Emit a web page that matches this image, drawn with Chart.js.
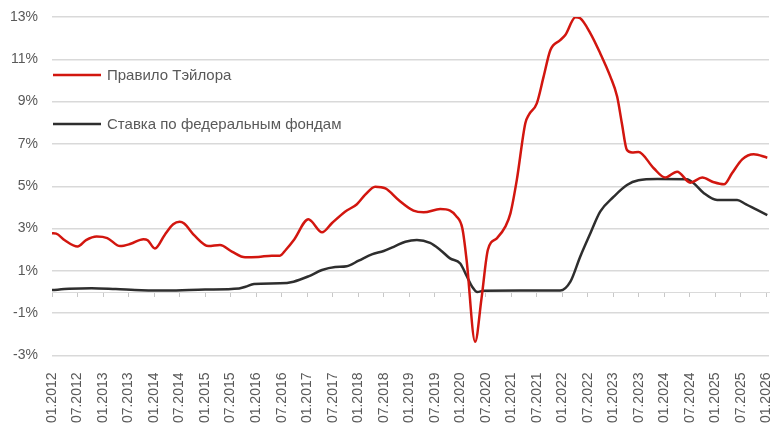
<!DOCTYPE html>
<html>
<head>
<meta charset="utf-8">
<script src="https://cdn.jsdelivr.net/npm/chart.js@4.4.1/dist/chart.umd.min.js"></script>
<style>
  html, body { margin: 0; padding: 0; background: #fff; }
  #wrap { width: 784px; height: 431px; }
</style>
</head>
<body>
<div id="wrap"><canvas id="chart" width="784" height="431"></canvas></div>
<script>
// months counted from 01.2012
const taylorMonths = [0, 1, 3, 6, 8, 10.5, 13, 16, 18.5, 21.5, 22.5, 24.2, 26.5, 28.5, 30, 31, 33.6, 36.8, 39.5, 42.3, 45.4, 48.5, 51.7, 53.6, 55, 57, 60.3, 61, 63.5, 65.8, 68.9, 71.7, 73.6, 76, 78.4, 81.5, 85, 87.4, 91.3, 93.6, 95, 96.5, 97.5, 99.5, 101, 102.5, 104.6, 106.6, 107.8, 109.3, 111.3, 112.1, 114, 115.6, 117.2, 119.5, 120.7, 123.1, 124.2, 126.6, 128.9, 131.3, 132.9, 134, 135.2, 136.4, 137.9, 141.5, 144.2, 147, 150.1, 152.9, 155.6, 158, 159.9, 162.3, 165, 168.2];
const taylorRate = [2.78, 2.76, 2.45, 2.15, 2.45, 2.62, 2.55, 2.17, 2.28, 2.50, 2.45, 2.06, 2.7, 3.2, 3.32, 3.25, 2.65, 2.17, 2.22, 1.91, 1.64, 1.66, 1.72, 1.72, 2.0, 2.5, 3.44, 3.35, 2.82, 3.25, 3.8, 4.15, 4.59, 4.98, 4.90, 4.35, 3.85, 3.77, 3.92, 3.85, 3.6, 3.0, 1.5, -2.35, -0.3, 2.0, 2.54, 3.09, 3.72, 5.3, 7.98, 8.37, 8.92, 10.18, 11.44, 11.91, 12.15, 12.99, 12.94, 12.23, 11.29, 10.18, 9.23, 7.98, 6.71, 6.6, 6.62, 5.85, 5.41, 5.69, 5.17, 5.41, 5.19, 5.09, 5.61, 6.27, 6.51, 6.35];

const fedMonths = [0, 4, 9.3, 15, 21, 27, 36, 44, 45.5, 47.5, 53.6, 56.8, 60.3, 63.5, 66.6, 69.3, 72.1, 75.2, 78, 80.7, 83.1, 85.8, 88.9, 91.3, 93.6, 96, 97.6, 98.8, 100, 101.5, 110, 119.5, 121.9, 124.2, 126.6, 128.9, 132.1, 135.2, 137.9, 142.3, 149.3, 150.9, 153.3, 156.4, 161.1, 163.1, 165.8, 168.2];
const fedRate = [0.09, 0.15, 0.18, 0.14, 0.09, 0.07, 0.12, 0.17, 0.25, 0.38, 0.41, 0.49, 0.74, 1.04, 1.18, 1.22, 1.48, 1.78, 1.94, 2.17, 2.38, 2.46, 2.32, 1.99, 1.59, 1.35, 0.72, 0.25, 0.0, 0.06, 0.07, 0.07, 0.49, 1.67, 2.78, 3.80, 4.51, 5.06, 5.28, 5.34, 5.33, 5.14, 4.67, 4.35, 4.35, 4.16, 3.88, 3.64];

const seriesNames = ['Правило Тэйлора', 'Ставка по федеральным фондам'];
const xTickMonths = [0, 6, 12, 18, 24, 30, 36, 42, 48, 54, 60, 66, 72, 78, 84, 90, 96, 102, 108, 114, 120, 126, 132, 138, 144, 150, 156, 162, 168];
const yTicks = [-3, -1, 1, 3, 5, 7, 9, 11, 13];

const toPoints = (xs, ys) => xs.map((x, i) => ({ x, y: ys[i] }));
const monthLabel = v => String(v % 12 + 1).padStart(2, '0') + '.' + (2012 + Math.floor(v / 12));
const halfYears = s => { s.ticks = xTickMonths.map(v => ({ value: v })); };

const FONT = "'Liberation Sans', Arial, sans-serif";
const TEXT = '#595959';

// legend drawn inside the plot, top-left
const innerLegend = {
  id: 'innerLegend',
  afterDraw(chart) {
    const { ctx, chartArea } = chart;
    const rows = [58, 107];
    ctx.save();
    ctx.font = '15px ' + FONT;
    ctx.textBaseline = 'middle';
    chart.data.datasets.forEach((ds, i) => {
      const y = chartArea.top + rows[i];
      const x = chartArea.left + 1;
      ctx.strokeStyle = ds.borderColor;
      ctx.lineWidth = 2.5;
      ctx.beginPath();
      ctx.moveTo(x, y);
      ctx.lineTo(x + 48, y);
      ctx.stroke();
      ctx.fillStyle = TEXT;
      ctx.fillText(ds.label, x + 54, y + 1);
    });
    ctx.restore();
  }
};

new Chart(document.getElementById('chart'), {
  type: 'line',
  data: {
    datasets: [{
      label: seriesNames[0],
      data: toPoints(taylorMonths, taylorRate),
      borderColor: '#d2160f',
      borderWidth: 2.5,
      pointRadius: 0,
      cubicInterpolationMode: 'monotone'
    }, {
      label: seriesNames[1],
      data: toPoints(fedMonths, fedRate),
      borderColor: '#2e2e2e',
      borderWidth: 2.5,
      pointRadius: 0,
      cubicInterpolationMode: 'monotone'
    }]
  },
  options: {
    responsive: false,
    animation: false,
    layout: { padding: { top: 17, right: 15, left: 0, bottom: 0 } },
    plugins: { legend: { display: false }, tooltip: { enabled: false } },
    scales: {
      x: {
        type: 'linear',
        min: 0,
        max: 168.6,
        afterBuildTicks: halfYears,
        afterFit: s => { s.height = 75.5; s.paddingLeft = 0; s.paddingRight = 0; },
        grid: { display: false },
        border: { display: false },
        ticks: {
          autoSkip: false,
          minRotation: 90,
          maxRotation: 90,
          padding: 9,
          color: TEXT,
          font: { family: FONT, size: 14 },
          callback: monthLabel
        }
      },
      x0: {
        type: 'linear',
        position: { y: 0 },
        min: 0,
        max: 168.6,
        afterBuildTicks: halfYears,
        afterFit: s => { s.paddingLeft = 0; s.paddingRight = 0; },
        grid: { drawOnChartArea: false, drawTicks: true, tickLength: 4, color: '#c8c8c8', lineWidth: 1 },
        border: { display: true, color: '#dadada', width: 1 },
        ticks: { display: false }
      },
      y: {
        min: -3,
        max: 13,
        afterBuildTicks: s => { s.ticks = yTicks.map(v => ({ value: v })); },
        afterFit: s => { s.width = 52; s.paddingTop = 0; s.paddingBottom = 0; },
        grid: { color: '#d9d9d9', lineWidth: 1.5, drawTicks: false },
        border: { display: false },
        ticks: {
          padding: 14,
          color: TEXT,
          font: { family: FONT, size: 14 },
          callback: v => v + '%'
        }
      }
    }
  },
  plugins: [innerLegend]
});
</script>
</body>
</html>
